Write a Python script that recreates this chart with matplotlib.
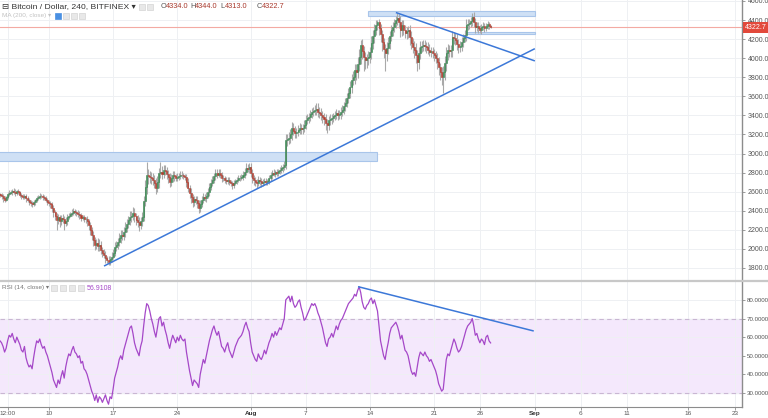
import numpy as np
import pandas as pd
import matplotlib
matplotlib.use("Agg")
import matplotlib.pyplot as plt
import matplotlib.dates as mdates
import matplotlib.transforms as mtransforms
from matplotlib.patches import Rectangle
from matplotlib.lines import Line2D

plt.rcParams['font.family'] = ['Liberation Sans', 'DejaVu Sans']

# BTC/USD Bitfinex, 4h bars from 2017-07-04 16:00 (one row per day)
start = "2017-07-04 16:00"
first_open = 2575
closes = [
    2568, 2550,                          # Jul 4
    2530, 2515, 2540, 2575, 2589, 2595,  # Jul 5
    2610, 2600, 2588, 2605, 2592, 2570,
    2550, 2547, 2560, 2530, 2515, 2495,
    2484, 2475, 2490, 2510, 2535, 2547,
    2560, 2557, 2545, 2530, 2515, 2494,
    2480, 2470, 2430, 2390, 2350, 2306,  # Jul 10
    2330, 2290, 2327, 2310, 2275, 2290,
    2337, 2350, 2370, 2379, 2395, 2385,
    2379, 2370, 2355, 2327, 2335, 2316,
    2316, 2290, 2250, 2201, 2150, 2090,
    2044, 2060, 2030, 2044, 1990, 1960,  # Jul 15
    1940, 1900, 1887, 1860, 1890, 1919,
    1960, 2023, 2040, 2070, 2117, 2150,
    2140, 2180, 2220, 2260, 2300, 2337,
    2350, 2379, 2340, 2306, 2280, 2253,
    2290, 2337, 2500, 2651, 2777, 2760,  # Jul 20
    2756, 2740, 2725, 2690, 2641, 2700,
    2798, 2810, 2790, 2830, 2820, 2790,
    2750, 2704, 2740, 2777, 2760, 2745,
    2756, 2765, 2777, 2770, 2760, 2756,
    2700, 2640, 2589, 2540, 2494, 2520,  # Jul 25
    2515, 2480, 2432, 2470, 2510, 2547,
    2530, 2560, 2600, 2650, 2690, 2725,
    2760, 2798, 2780, 2798, 2775, 2746,
    2740, 2725, 2710, 2725, 2700, 2690,
    2672, 2690, 2710, 2725, 2740, 2746,  # Jul 30
    2756, 2780, 2810, 2851, 2840, 2861,
    2800, 2746, 2720, 2704, 2690, 2725,  # Aug 1
    2710, 2693, 2700, 2715, 2704, 2710,
    2746, 2770, 2798, 2790, 2805, 2798,
    2815, 2830, 2845, 2861, 2880, 3144,
    3150, 3165, 3200, 3269, 3240, 3217,  # Aug 5
    3230, 3250, 3269, 3255, 3269, 3300,
    3353, 3370, 3384, 3410, 3437, 3450,
    3458, 3470, 3440, 3426, 3400, 3384,
    3360, 3322, 3300, 3353, 3360, 3374,
    3390, 3405, 3420, 3405, 3410, 3437,  # Aug 10
    3460, 3500, 3531, 3580, 3636, 3700,
    3772, 3800, 3877, 3850, 3940, 4013,
    4138, 4070, 4013, 3980, 4002, 4013,
    4060, 4159, 4230, 4300, 4348, 4380,
    4316, 4250, 4170, 4100, 4054, 4110,  # Aug 15
    4159, 4230, 4295, 4330, 4369, 4400,
    4421, 4380, 4295, 4348, 4300, 4264,
    4280, 4295, 4220, 4159, 4120, 4086,
    4030, 3960, 4050, 4117, 4130, 4138,
    4125, 4117, 4090, 4065, 4070, 4054,  # Aug 20
    4030, 4002, 3960, 3908, 3860, 3803,
    3856, 3950, 4050, 4086, 4070, 4086,
    4222, 4210, 4191, 4150, 4117, 4130,
    4170, 4210, 4243, 4348, 4360, 4369,
    4390, 4431, 4380, 4327, 4340, 4316,  # Aug 25
    4300, 4327, 4335, 4316, 4340, 4358,
    4334, 4322.7,                        # Aug 27
]

# wick lengths above / below the candle body ($)
wick_hi = [
    15, 20,
    25, 30, 20, 18, 25, 20,
    20, 25, 30, 15, 20, 18,
    18, 22, 15, 20, 25, 20,
    20, 15, 25, 18, 20, 22,
    25, 20, 18, 25, 20, 15,
    15, 20, 25, 30, 20, 25,
    40, 30, 25, 35, 30, 40,
    30, 25, 20, 35, 30, 25,
    20, 25, 30, 20, 25, 20,
    20, 25, 20, 30, 25, 35,
    40, 45, 50, 60, 40, 35,
    35, 40, 30, 40, 35, 45,
    40, 50, 45, 40, 55, 45,
    50, 45, 60, 55, 50, 60,
    45, 60, 50, 40, 45, 50,
    40, 50, 60, 70, 136, 60,
    60, 50, 55, 45, 50, 60,
    50, 100, 60, 50, 45, 40,
    40, 45, 50, 40, 35, 30,
    35, 30, 40, 35, 30, 25,
    30, 40, 35, 45, 40, 35,
    35, 40, 30, 45, 40, 35,
    30, 35, 40, 45, 40, 35,
    40, 45, 35, 40, 35, 30,
    30, 25, 30, 25, 30, 25,
    25, 30, 25, 30, 35, 30,
    30, 35, 40, 45, 35, 40,
    40, 35, 30, 35, 30, 35,
    30, 35, 30, 25, 30, 25,
    30, 35, 30, 35, 25, 30,
    25, 30, 35, 30, 40, 60,
    50, 60, 55, 60, 50, 45,
    40, 45, 50, 40, 45, 50,
    50, 45, 40, 50, 45, 40,
    50, 60, 55, 45, 50, 45,
    45, 50, 40, 45, 50, 40,
    40, 45, 50, 40, 45, 50,
    50, 45, 55, 60, 55, 60,
    60, 70, 65, 60, 70, 80,
    50, 60, 55, 50, 45, 60,
    60, 70, 65, 60, 55, 20,
    30, 40, 50, 45, 50, 60,
    60, 50, 55, 50, 45, 40,
    50, 45, 60, 50, 55, 45,
    50, 45, 55, 60, 50, 55,
    70, 60, 65, 60, 55, 50,
    50, 45, 50, 55, 45, 50,
    45, 50, 55, 50, 45, 50,
    60, 70, 65, 60, 55, 50,
    60, 55, 50, 60, 55, 50,
    50, 45, 55, 60, 50, 45,
    40, 42, 50, 45, 40, 35,
    35, 30, 40, 35, 30, 35,
    20, 10,
]
wick_lo = [
    25, 30,
    35, 20, 15, 20, 18, 15,
    25, 20, 30, 18, 20, 25,
    30, 25, 20, 35, 25, 30,
    35, 40, 20, 25, 18, 20,
    20, 25, 30, 20, 25, 30,
    30, 40, 45, 60, 50, 106,
    50, 60, 35, 40, 75, 30,
    40, 25, 20, 30, 25, 30,
    30, 35, 40, 30, 25, 35,
    40, 45, 50, 60, 55, 60,
    60, 40, 55, 50, 45, 40,
    40, 45, 35, 25, 30, 25,
    30, 35, 40, 45, 35, 50,
    45, 50, 55, 40, 45, 50,
    50, 45, 55, 60, 50, 60,
    45, 50, 40, 50, 70, 80,
    70, 60, 55, 50, 60, 45,
    60, 50, 55, 45, 50, 55,
    60, 50, 45, 40, 45, 35,
    30, 35, 30, 25, 30, 35,
    50, 45, 60, 55, 50, 45,
    45, 55, 60, 40, 35, 30,
    30, 35, 30, 40, 35, 30,
    35, 40, 35, 30, 35, 40,
    30, 35, 30, 25, 30, 35,
    40, 30, 25, 30, 25, 30,
    25, 30, 35, 30, 35, 40,
    50, 55, 45, 40, 50, 35,
    35, 40, 30, 35, 30, 35,
    25, 30, 35, 30, 35, 30,
    30, 25, 30, 35, 30, 40,
    60, 50, 55, 60, 50, 55,
    50, 45, 40, 50, 45, 40,
    40, 45, 50, 45, 40, 45,
    45, 50, 60, 55, 50, 60,
    60, 70, 80, 55, 50, 45,
    45, 40, 45, 50, 40, 45,
    40, 45, 50, 45, 50, 55,
    60, 55, 70, 80, 60, 70,
    70, 80, 150, 90, 80, 70,
    60, 70, 65, 70, 60, 50,
    70, 80, 90, 100, 190, 80,
    70, 60, 50, 60, 55, 50,
    50, 60, 70, 60, 55, 50,
    60, 70, 80, 60, 70, 80,
    80, 90, 70, 60, 55, 50,
    55, 60, 50, 45, 55, 50,
    60, 55, 70, 80, 90, 80,
    167, 90, 80, 70, 60, 55,
    70, 60, 55, 65, 60, 55,
    55, 50, 45, 60, 55, 50,
    45, 50, 55, 60, 45, 50,
    40, 45, 35, 40, 35, 30,
    30, 9.7,
]

# RSI(14, close) per 4h bar
rsi_vals = [
    58, 57,
    55, 52, 54, 58, 61, 60,
    62, 59, 57, 60, 58, 56,
    53, 52, 55, 49, 46, 44,
    45, 43, 49, 54, 58, 57,
    59, 56, 54, 55, 52, 50,
    47, 44, 41, 37, 35, 33,   # Jul 10
    37, 35, 39, 42, 38, 44,
    48, 51, 50, 53, 55, 52,
    51, 49, 50, 46, 47, 43,
    42, 40, 37, 34, 31, 29,
    26, 29, 25, 28, 27, 25,   # Jul 15
    27, 29, 26, 24, 28, 27,
    32, 38, 41, 44, 48, 50,
    48, 53, 56, 59, 62, 65,
    66, 62, 57, 54, 52, 50,
    55, 58, 66, 73, 78, 77,   # Jul 20
    74, 70, 67, 63, 60, 65,
    70, 71, 66, 68, 64, 61,
    57, 54, 58, 61, 59, 57,
    60, 58, 61, 59, 58, 59,
    52, 47, 42, 38, 34, 37,   # Jul 25
    36, 35, 33, 40, 44, 48,
    46, 50, 54, 58, 61, 64,
    66, 63, 61, 63, 59, 55,
    54, 52, 55, 57, 53, 51,
    49, 52, 55, 57, 59, 60,   # Jul 30
    61, 63, 66, 68, 65, 63,
    57, 52, 50, 48, 47, 51,   # Aug 1
    49, 48, 50, 53, 51, 54,
    57, 59, 62, 60, 63, 61,
    63, 65, 64, 67, 70, 80,
    81, 82, 79, 82, 78, 76,   # Aug 5
    77, 79, 80, 76, 73, 69,
    70, 72, 74, 76, 78, 77,
    78, 76, 73, 71, 68, 65,
    61, 57, 55, 59, 60, 62,
    60, 63, 66, 64, 67, 69,   # Aug 10
    70, 72, 74, 76, 78, 79,
    80, 81, 83, 82, 85, 87,
    84, 79, 76, 75, 77, 78,
    80, 81, 78, 80, 77, 74,
    66, 58, 54, 50, 48, 53,   # Aug 15
    57, 62, 65, 66, 67, 68,
    66, 63, 59, 61, 57, 53,
    52, 50, 46, 42, 40, 41,
    39, 44, 49, 52, 51, 50,
    52, 50, 49, 47, 48, 46,   # Aug 20
    44, 42, 39, 35, 33, 31,
    32, 40, 48, 51, 50, 53,
    56, 59, 57, 54, 52, 53,
    55, 58, 61, 64, 66, 67,
    68, 70, 66, 61, 62, 59,   # Aug 25
    57, 59, 58, 56, 60, 61,
    58, 56.9108,
]
rsi_last_label = "56.9108"

# drawn levels / trend lines (date, value)
support_zone = ("2017-07-01", "2017-08-14 18:00", 2924, 3018)
top_zone = ("2017-08-13 19:00", "2017-09-01 01:00", 4445, 4494)
mid_zone = ("2017-08-24 10:00", "2017-09-01 01:00", 4250, 4277)
rising_line = [("2017-07-16 02:00", 1824), ("2017-08-31 22:00", 4096)]
falling_line = [("2017-08-16 22:00", 4476), ("2017-08-31 22:00", 3974)]
rsi_line = [("2017-08-12 19:00", 87.0), ("2017-08-31 19:00", 63.4)]

price_ticks = [1800, 2000, 2200, 2400, 2600, 2800, 3000, 3200, 3400,
               3600, 3800, 4000, 4200, 4400, 4600]
rsi_ticks = [30, 40, 50, 60, 70, 80]
x_tick_dates = ["2017-07-05 12:00", "2017-07-10", "2017-07-17", "2017-07-24",
                "2017-08-01", "2017-08-07", "2017-08-14", "2017-08-21",
                "2017-08-26", "2017-09-01", "2017-09-06", "2017-09-11",
                "2017-09-17 17:00", "2017-09-22 20:00"]
x_tick_labels = ["12:00", "10", "17", "24", "Aug", "7", "14", "21", "26",
                 "Sep", "6", "11", "16", "23"]

# ---- derived series
c = np.array(closes, dtype=float)
o = np.concatenate([[first_open], c[:-1]])
hi = np.maximum(o, c) + np.array(wick_hi)
lo = np.minimum(o, c) - np.array(wick_lo)
t = pd.date_range(start, periods=len(c), freq="4h")
x = mdates.date2num(t)

W, H = 768, 418
def box(x0, y0, x1, y1):
    return [x0 / W, 1 - y1 / H, (x1 - x0) / W, (y1 - y0) / H]

up_col, dn_col, wick_col = "#37864f", "#b0392b", "#a9a9a9"
grid_col = "#eef0f3"
axis_col = "#8c8c8c"
txt_col = "#555555"
blue = "#3c78d8"
purple = "#a548c8"

fig = plt.figure(figsize=(7.68, 4.18), dpi=100)
ax = fig.add_axes(box(0, 0, 742, 280))
ax2 = fig.add_axes(box(0, 282, 742, 407), sharex=ax)

# candles
up = c >= o
ax.vlines(x, lo, hi, color=wick_col, lw=0.8, zorder=2)
bw = 0.11
ax.bar(x[up], (c - o)[up], bottom=o[up], width=bw, color=up_col,
       edgecolor=up_col, lw=0.4, zorder=3)
ax.bar(x[~up], (c - o)[~up], bottom=o[~up], width=bw, color=dn_col,
       edgecolor=dn_col, lw=0.4, zorder=3)

# zones
for z0, z1, p0, p1 in [support_zone, top_zone, mid_zone]:
    a0, a1 = mdates.date2num(pd.Timestamp(z0)), mdates.date2num(pd.Timestamp(z1))
    ax.add_patch(Rectangle((a0, p0), a1 - a0, p1 - p0, facecolor="#cfe0f5",
                           edgecolor="#a9c5ea", lw=0.8, zorder=1.5))

for ln, a in [(rising_line, ax), (falling_line, ax), (rsi_line, ax2)]:
    xs = mdates.date2num([pd.Timestamp(p[0]) for p in ln])
    a.plot(xs, [p[1] for p in ln], color=blue, lw=1.1, zorder=4)

# last price line + label
last = c[-1]
ax.axhline(last, color="#f3aaa3", lw=0.8, zorder=1.8)
trans = mtransforms.blended_transform_factory(ax.transAxes, ax.transData)
ax.text(1.004, last, f"{last:.1f}", transform=trans, ha="left", va="center",
        fontsize=5, color="white",
        bbox=dict(boxstyle="square,pad=0.25", fc="#e2493b", ec="none"))

# RSI pane
ax2.axhspan(30, 70, color="#f4e8fc", zorder=0)
for lev in (30, 70):
    ax2.axhline(lev, color="#c9b6d3", lw=0.8, ls=(0, (4, 3)), zorder=1)
ax2.plot(x, rsi_vals, color=purple, lw=0.9, zorder=3)

xt = mdates.date2num([pd.Timestamp(v) for v in x_tick_dates])
xlim = (mdates.date2num(pd.Timestamp("2017-07-04 16:00")),
        mdates.date2num(pd.Timestamp("2017-09-23 14:00")))

for a in (ax, ax2):
    a.set_xlim(*xlim)
    a.set_xticks(xt)
    a.grid(True, color=grid_col, lw=0.7, zorder=0)
    a.set_axisbelow(True)
    for sp in ("left", "top", "bottom"):
        a.spines[sp].set_visible(False)
    a.spines["right"].set_color(axis_col)
    a.spines["right"].set_linewidth(1.0)
    a.yaxis.tick_right()
    a.tick_params(axis="y", length=2, width=0.6, color=axis_col, pad=2,
                  labelsize=5, labelcolor=txt_col)

ax.set_ylim(1674, 4610)
ax.set_yticks(price_ticks)
ax.set_yticklabels([f"{v:.1f}" for v in price_ticks])
ax.tick_params(axis="x", length=0, labelbottom=False)

ax2.set_ylim(22.5, 89.6)
ax2.set_yticks(rsi_ticks)
ax2.set_yticklabels([f"{v:.4f}" for v in rsi_ticks])
ax2.tick_params(axis="y", labelsize=4.4, pad=1.5)
ax2.spines["bottom"].set_visible(True)
ax2.spines["bottom"].set_color(axis_col)
ax2.tick_params(axis="x", length=2, width=0.6, color=axis_col, pad=1,
                labelsize=4.6, labelcolor=txt_col)
ax2.set_xticklabels(x_tick_labels)
for lab in ax2.get_xticklabels():
    if lab.get_text() in ("Aug", "Sep"):
        lab.set_fontweight("bold")
        lab.set_color("#333333")

# pane separator
fig.add_artist(Line2D([0, 1], [1 - 281 / H] * 2, color="#c8c8c8", lw=1.6))

# header texts
def ftxt(xp, yp, s, **kw):
    fig.text(xp / W, 1 - yp / H, s, va="center", ha="left", **kw)

def icon(xp, yp, fc="#e8e8e8", ec="#d4d4d4"):
    fig.add_artist(Rectangle((xp / W, 1 - (yp + 3) / H), 6 / W, 6 / H,
                             transform=fig.transFigure, fc=fc, ec=ec, lw=0.5))

ftxt(2, 6.5, "⊟ Bitcoin / Dollar, 240, BITFINEX ▾", fontsize=6.1, color="#333333")
for xp in (139, 147):
    icon(xp, 6.5)
for lab, val, xp in [("O", o[-1], 161), ("H", hi[-1], 190), ("L", lo[-1], 220), ("C", c[-1], 257)]:
    ftxt(xp, 6.5, lab, fontsize=5.3, color="#555555")
    ftxt(xp + 4.5, 6.5, f"{val:.1f}", fontsize=5.3, color="#a8382c")

ftxt(2, 16, "MA (200, close) ▾", fontsize=4.6, color="#c2c2c2")
icon(55, 16, fc="#4a90e2", ec="#4a90e2")
for xp in (63, 71, 79):
    icon(xp, 16)

ftxt(2, 288, "RSI (14, close) ▾", fontsize=4.6, color="#777777")
for xp in (51, 60, 69, 78):
    icon(xp, 288)
ftxt(87, 288, rsi_last_label, fontsize=5, color=purple)

fig.savefig("out.png", dpi=100)
